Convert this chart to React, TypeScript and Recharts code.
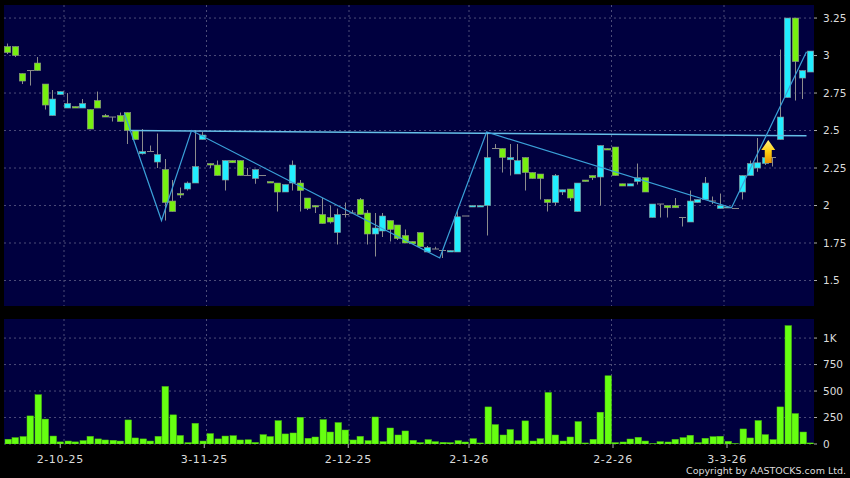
import React from 'react';
import { ComposedChart, Bar, Line, XAxis, YAxis, CartesianGrid, ReferenceDot } from 'recharts';

const opens = [3.06,3.06,2.88,2.90,2.95,2.81,2.60,2.74,2.65,2.66,2.65,2.64,2.70,2.60,2.59,2.60,2.62,2.50,2.345,2.36,2.29,2.24,2.03,2.08,2.11,2.15,2.44,2.28,2.27,2.17,2.30,2.30,2.20,2.18,2.20,2.16,2.15,2.09,2.15,2.15,2.05,2.00,1.94,1.92,1.82,1.94,1.95,2.04,1.95,1.81,1.83,1.90,1.87,1.80,1.76,1.82,1.69,1.71,1.70,1.69,1.69,1.93,1.99,1.99,2.00,2.38,2.38,2.305,2.21,2.32,2.22,2.21,2.04,2.02,2.09,2.11,1.96,2.17,2.20,2.19,2.38,2.39,2.145,2.13,2.16,2.185,1.92,2.01,2.00,2.00,1.92,1.89,2.02,2.04,2.03,1.98,1.985,1.98,2.09,2.20,2.25,2.28,2.32,2.44,2.72,3.25,2.85,2.89];
const closes = [3.02,3.00,2.83,2.90,2.90,2.67,2.71,2.76,2.68,2.65,2.68,2.51,2.65,2.59,2.59,2.56,2.50,2.44,2.36,2.36,2.34,2.02,1.96,2.07,2.15,2.26,2.47,2.27,2.20,2.30,2.285,2.20,2.20,2.24,2.20,2.15,2.09,2.14,2.27,2.10,1.98,1.99,1.88,1.89,1.94,1.94,1.95,1.94,1.81,1.85,1.93,1.84,1.78,1.75,1.745,1.725,1.72,1.71,1.70,1.70,1.925,1.93,2.00,2.00,2.32,2.38,2.32,2.32,2.30,2.22,2.18,2.18,2.02,2.20,2.105,2.05,2.15,2.16,2.185,2.40,2.37,2.20,2.13,2.145,2.185,2.09,2.01,2.01,1.985,1.985,1.92,2.03,2.04,2.15,2.03,2.00,1.99,1.98,2.20,2.28,2.285,2.32,2.32,2.59,3.25,2.96,2.90,3.03];
const highs = [3.08,3.06,2.88,2.90,2.99,2.81,2.77,2.76,2.75,2.66,2.71,2.64,2.76,2.61,2.59,2.62,2.62,2.50,2.51,2.40,2.48,2.31,2.17,2.12,2.16,2.50,2.49,2.28,2.30,2.30,2.30,2.30,2.25,2.24,2.20,2.16,2.15,2.14,2.30,2.17,2.05,2.00,2.05,2.00,1.98,2.02,1.97,2.05,1.97,1.95,1.95,1.90,1.87,1.84,1.76,1.82,1.73,1.725,1.70,1.70,1.97,1.93,2.00,2.00,2.49,2.41,2.38,2.41,2.41,2.32,2.22,2.21,2.04,2.21,2.105,2.11,2.15,2.17,2.20,2.40,2.38,2.39,2.145,2.145,2.28,2.185,2.01,2.01,2.00,2.05,1.92,2.10,2.04,2.19,2.06,2.08,1.99,1.98,2.20,2.30,2.45,2.32,2.32,3.04,3.25,3.25,2.90,3.03];
const lows = [3.01,2.99,2.81,2.80,2.90,2.64,2.60,2.74,2.65,2.65,2.65,2.51,2.65,2.59,2.56,2.56,2.41,2.44,2.34,2.36,2.25,1.90,1.96,2.05,2.10,2.15,2.44,2.25,2.20,2.10,2.285,2.20,2.20,2.145,2.20,2.15,1.96,2.09,2.10,1.96,1.97,1.95,1.88,1.88,1.74,1.92,1.95,1.94,1.74,1.66,1.79,1.76,1.77,1.75,1.745,1.725,1.69,1.71,1.65,1.69,1.69,1.93,1.99,1.99,1.80,2.38,2.22,2.20,2.21,2.10,2.18,2.04,1.96,2.00,2.07,2.03,1.96,2.16,2.17,2.00,2.37,2.20,2.13,2.13,2.14,2.09,1.92,1.92,1.92,1.985,1.86,1.89,2.02,2.04,2.01,1.98,1.985,1.98,2.04,2.20,2.225,2.27,2.26,2.44,2.72,2.70,2.71,2.89];
const volumes = [45,60,70,265,465,235,75,20,28,20,32,72,48,38,35,28,227,57,48,28,72,543,275,80,13,195,28,98,48,75,78,38,40,15,88,70,220,95,104,252,54,66,230,113,202,132,38,72,32,255,22,151,85,123,35,13,41,22,16,13,32,19,50,10,350,183,85,136,32,218,28,50,486,85,28,66,211,10,44,300,644,13,19,47,63,28,3,22,19,44,60,82,13,54,69,73,25,3,142,57,221,88,41,350,1117,287,113,10];

const priceTicks = [1.5, 1.75, 2, 2.25, 2.5, 2.75, 3, 3.25];
const volumeTicks = [0, 250, 500, 750, 1000];
const monthGrid = [8, 27, 46, 62, 81, 96];
const dateTicks = [7.5, 26.7, 45.9, 62, 81.2, 96.4];
const dateLabels = ['2-10-25', '3-11-25', '2-12-25', '2-1-26', '2-2-26', '3-3-26'];

const zigzagX = [16.05, 21, 25, 58.1, 64.35, 97, 107];
const zigzagY = [2.615, 1.9, 2.5, 1.65, 2.49, 1.985, 3.025];
const necklineX = [16.7, 107];
const necklineY = [2.5, 2.465];

const rows = opens.map((o, i) => ({
  x: i + 0.5,
  open: o,
  close: closes[i],
  high: highs[i],
  low: lows[i],
  range: [lows[i], highs[i]],
  volume: volumes[i],
}));
const zigzag = zigzagX.map((x, i) => ({ x, y: zigzagY[i] }));
const neckline = necklineX.map((x, i) => ({ x, y: necklineY[i] }));

const BG = '#00003f';
const GRID = '#4c4c78';
const WICK = '#8c8c8c';
const GREEN = '#77f010';
const CYAN = '#22eeff';
const LINE = '#3aa0d8';
const TEXT = '#dcdcdc';
const FONT = '"DejaVu Sans", sans-serif';

function Candle(props: any) {
  const { x, y, width, height, payload } = props;
  const cx = Math.floor(x + width / 2) + 0.5;
  const span = payload.high - payload.low;
  const px = (v: number) => (span === 0 ? y : y + ((payload.high - v) / span) * height);
  const top = px(Math.max(payload.open, payload.close));
  const bot = px(Math.min(payload.open, payload.close));
  const up = payload.close > payload.open;
  const flat = payload.close === payload.open;
  return (
    <g>
      <line x1={cx} x2={cx} y1={y} y2={y + height} stroke={WICK} strokeWidth={1} />
      {flat ? (
        <line x1={cx - 3.5} x2={cx + 3.5} y1={top} y2={top} stroke={WICK} strokeWidth={1} />
      ) : (
        <rect x={cx - 3.2} y={top} width={6.4} height={Math.max(bot - top, 1)} fill={up ? CYAN : GREEN} stroke={WICK} strokeWidth={0.6} />
      )}
    </g>
  );
}

function VolumeBar(props: any) {
  const { x, y, width, height } = props;
  return <rect x={Math.floor(x + width / 2) - 3} y={y} width={6.5} height={height} fill="#66ff11" stroke="#4cc00e" strokeWidth={0.5} />;
}

function Arrow(props: any) {
  const { cx, cy } = props;
  const pts = [[0, -11], [7, -1], [3.5, -1], [3.5, 12], [-3.5, 12], [-3.5, -1], [-7, -1]];
  return <polygon points={pts.map(([a, b]) => `${cx + a},${cy + b}`).join(' ')} fill="url(#arrowFill)" />;
}

const priceLabel = (v: number) => String(v);
const volumeLabel = (v: number) => (v >= 1000 ? `${v / 1000}K` : String(v));
const dateLabel = (v: number) => dateLabels[dateTicks.indexOf(v)] ?? '';

export default function App() {
  return (
    <div style={{ position: 'fixed', left: 0, top: 0, width: 850, height: 478, background: '#000', overflow: 'hidden' }}>
      <div style={{ position: 'absolute', left: 0, top: 0 }}>
        <ComposedChart width={850} height={310} data={rows} margin={{ top: 5, right: 0, bottom: 4, left: 4 }}>
          <defs>
            <linearGradient id="arrowFill" x1="0" y1="0" x2="0" y2="1">
              <stop offset="0%" stopColor="#fff080" />
              <stop offset="50%" stopColor="#ffcf10" />
              <stop offset="100%" stopColor="#e89000" />
            </linearGradient>
          </defs>
          <CartesianGrid fill={BG} fillOpacity={1} stroke={GRID} strokeDasharray="2 3" horizontalValues={priceTicks} verticalValues={monthGrid} />
          <XAxis dataKey="x" type="number" domain={[0, 108]} hide allowDataOverflow />
          <YAxis orientation="right" domain={[1.33, 3.337]} ticks={priceTicks} tickFormatter={priceLabel} width={36} axisLine={false} tickSize={3} tickLine={{ stroke: '#aaa' }} tick={{ fill: TEXT, fontSize: 10.5, fontFamily: FONT }} tickMargin={6} interval={0} allowDataOverflow />
          <Bar dataKey="range" barSize={6} shape={Candle} isAnimationActive={false} />
          <Line data={neckline} dataKey="y" stroke="#66bfe8" strokeWidth={1.5} dot={false} activeDot={false} isAnimationActive={false} />
          <Line data={zigzag} dataKey="y" stroke={LINE} strokeWidth={1.2} dot={false} activeDot={false} isAnimationActive={false} />
          <ReferenceDot x={101.9} y={2.363} r={0} shape={Arrow} ifOverflow="visible" />
        </ComposedChart>
      </div>
      <div style={{ position: 'absolute', left: 0, top: 310 }}>
        <ComposedChart width={850} height={168} data={rows} margin={{ top: 9, right: 0, bottom: 0, left: 4 }}>
          <CartesianGrid fill={BG} fillOpacity={1} stroke={GRID} strokeDasharray="2 3" horizontalValues={volumeTicks} verticalValues={monthGrid} />
          <XAxis dataKey="x" type="number" domain={[0, 108]} ticks={dateTicks} tickFormatter={dateLabel} height={34} axisLine={false} tickSize={4} tickLine={{ stroke: '#aaa' }} tick={{ fill: TEXT, fontSize: 11, fontFamily: FONT, letterSpacing: 0.6 }} tickMargin={7} interval={0} allowDataOverflow />
          <YAxis orientation="right" domain={[0, 1180]} ticks={volumeTicks} tickFormatter={volumeLabel} width={36} axisLine={false} tickSize={3} tickLine={{ stroke: '#aaa' }} tick={{ fill: TEXT, fontSize: 10.5, fontFamily: FONT }} tickMargin={6} interval={0} allowDataOverflow />
          <Bar dataKey="volume" barSize={6} shape={VolumeBar} isAnimationActive={false} />
        </ComposedChart>
      </div>
      <div style={{ position: 'absolute', right: 4, top: 465, color: TEXT, fontSize: 9.5, lineHeight: '12px', fontFamily: FONT, whiteSpace: 'nowrap' }}>
        Copyright by AASTOCKS.com Ltd.
      </div>
    </div>
  );
}
